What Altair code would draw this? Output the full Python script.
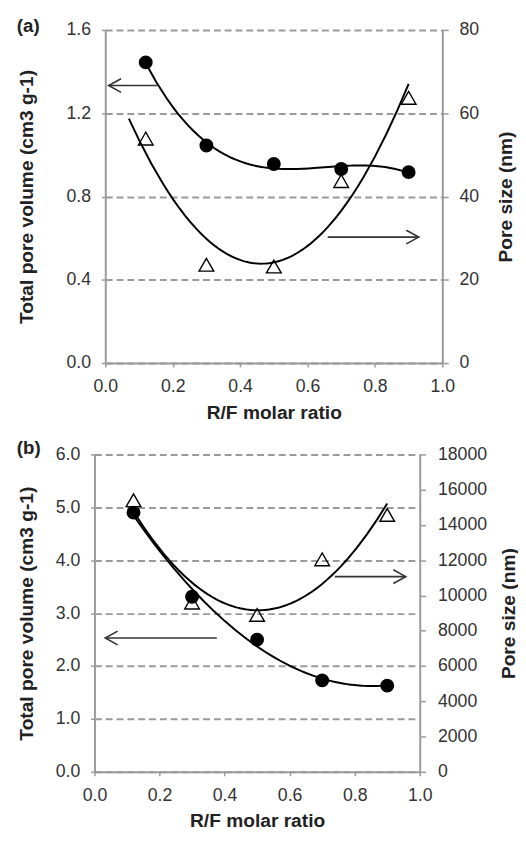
import altair as alt
import pandas as pd

# ---------------- data ----------------
rf_ratio = [0.12, 0.3, 0.5, 0.7, 0.9]

a_pore_volume = [1.444, 1.045, 0.956, 0.932, 0.917]   # cm3 g-1 (left axis)
a_pore_size = [53.9, 23.6, 23.2, 43.7, 63.7]          # nm (right axis)

b_pore_volume = [4.90, 3.31, 2.50, 1.73, 1.63]        # cm3 g-1 (left axis)
b_pore_size = [15400, 9600, 8900, 12050, 14570]       # nm (right axis)

x_ticks = [0.0, 0.2, 0.4, 0.6, 0.8, 1.0]
a_left_ticks = [0.0, 0.4, 0.8, 1.2, 1.6]
a_right_ticks = [0, 20, 40, 60, 80]
b_left_ticks = [0.0, 1.0, 2.0, 3.0, 4.0, 5.0, 6.0]
b_right_ticks = [0, 2000, 4000, 6000, 8000, 10000, 12000, 14000, 16000, 18000]

# annotation arrows: tail x, tip x, level (left-axis units), direction
a_arrow_tail = [0.155, 0.66]
a_arrow_tip = [0.01, 0.93]
a_arrow_level = [1.333, 0.605]
b_arrow_tail = [0.376, 0.739]
b_arrow_tip = [0.033, 0.957]
b_arrow_level = [2.53, 3.69]
arrow_dir = ["left", "right"]

FONT = "Liberation Sans"
GRAY = "#9a9a9a"


def panel(label, vol, pore, left_ticks, right_ticks, left_max, right_max,
          tail, tip, level, tri_extent, vol_order, pore_order,
          width, height, left_title_pad, right_label_pad, right_title_pad,
          label_offset):
    df = pd.DataFrame({"x": rf_ratio, "vol": vol, "pore": pore})
    arrows = pd.DataFrame({"tail": tail, "tip": tip, "level": level, "dir": arrow_dir})

    xenc = alt.X(
        "x:Q",
        scale=alt.Scale(domain=[0, 1], nice=False, zero=False),
        axis=alt.Axis(
            values=x_ticks, format=".1f", title="R/F molar ratio",
            grid=False, labelFlush=False, labelOverlap=False,
            tickSize=4, labelPadding=11, titlePadding=8,
        ),
    )
    yleft_scale = alt.Scale(domain=[0, left_max], nice=False, zero=True)
    yright_scale = alt.Scale(domain=[0, right_max], nice=False, zero=True)

    left_axis = alt.Axis(
        orient="left", values=left_ticks, format=".1f",
        title="Total pore volume (cm3 g-1)", grid=True,
        gridDash=[7, 4], gridColor=GRAY, gridWidth=2,
        tickSize=4, labelPadding=11, titlePadding=left_title_pad,
        labelOverlap=False, labelFlush=False,
    )
    right_axis = alt.Axis(
        orient="right", values=right_ticks, format="d",
        title="Pore size (nm)", grid=False, titleAngle=270, titleBaseline="top",
        tickSize=6, labelPadding=right_label_pad, titlePadding=right_title_pad,
        labelOverlap=False, labelFlush=False,
    )

    base = alt.Chart(df)

    # right-axis layer: pore size (open triangles + quadratic trend)
    tri_curve = base.transform_regression(
        "x", "pore", method="poly", order=pore_order, extent=tri_extent
    ).mark_line(color="black", strokeWidth=2).encode(
        x=xenc, y=alt.Y("pore:Q", scale=yright_scale, axis=right_axis)
    )
    triangles = base.mark_point(
        shape="triangle-up", filled=False, color="black", size=225,
        strokeWidth=1.4, opacity=1
    ).encode(x=xenc, y=alt.Y("pore:Q", scale=yright_scale, axis=right_axis))
    right_layer = alt.layer(tri_curve, triangles)

    # left-axis layer: pore volume (filled circles + trend) and arrows
    vol_curve = base.transform_regression(
        "x", "vol", method="poly", order=vol_order
    ).mark_line(color="black", strokeWidth=2).encode(
        x=xenc, y=alt.Y("vol:Q", scale=yleft_scale, axis=left_axis)
    )
    circles = base.mark_circle(color="black", size=200, opacity=1).encode(
        x=xenc, y=alt.Y("vol:Q", scale=yleft_scale, axis=left_axis)
    )
    arr = alt.Chart(arrows)
    shafts = arr.mark_rule(color="#333333", strokeWidth=1.6).encode(
        x=alt.X("tail:Q", scale=alt.Scale(domain=[0, 1], nice=False)),
        x2="tip:Q",
        y=alt.Y("level:Q", scale=yleft_scale, axis=left_axis),
    )
    heads = arr.mark_point(filled=False, color="#333333", strokeWidth=1.6,
                           size=160, opacity=1).encode(
        x=alt.X("tip:Q", scale=alt.Scale(domain=[0, 1], nice=False)),
        y=alt.Y("level:Q", scale=yleft_scale, axis=left_axis),
        shape=alt.Shape(
            "dir:N",
            scale=alt.Scale(domain=["left", "right"],
                            range=["M2,-1.1L0,0L2,1.1", "M-2,-1.1L0,0L-2,1.1"]),
            legend=None,
        ),
    )
    left_layer = alt.layer(vol_curve, circles, shafts, heads)

    return alt.layer(right_layer, left_layer).resolve_scale(y="independent").properties(
        width=width, height=height,
        title=alt.TitleParams(label, anchor="start", frame="bounds", fontSize=19,
                              fontWeight="bold", font=FONT, color="#222222",
                              offset=label_offset),
    )


def spacer():
    # 1px invisible cell so that each panel's full bounds start at the same x
    return alt.Chart(pd.DataFrame({"v": [0]})).mark_point(opacity=0).encode(
        x=alt.value(0), y=alt.value(0)
    ).properties(width=1, height=1)


chart_a = panel("(a)", a_pore_volume, a_pore_size, a_left_ticks, a_right_ticks, 1.6, 80,
                a_arrow_tail, a_arrow_tip, a_arrow_level, [0.07, 0.9], 3, 2,
                343, 339, 30, 11, 18, -15)
chart_b = panel("(b)", b_pore_volume, b_pore_size, b_left_ticks, b_right_ticks, 6.0, 18000,
                b_arrow_tail, b_arrow_tip, b_arrow_level, [0.12, 0.9], 2, 2,
                331, 323, 19, 12, 13, -12.5)

chart = alt.vconcat(
    alt.hconcat(spacer(), chart_a, spacing=0),
    alt.hconcat(spacer(), chart_b, spacing=0),
    spacing=17,
).properties(
    padding={"left": 2, "top": 2, "right": 0, "bottom": 0}
).configure_view(
    stroke=None
).configure_axis(
    labelFont=FONT, labelFontSize=18, labelColor="#333333",
    titleFont=FONT, titleFontSize=19.5, titleFontWeight="bold", titleColor="#222222",
    domainColor=GRAY, domainWidth=2, tickColor=GRAY, tickWidth=1.5,
)

chart.save("out.html", embed_options={"renderer": "svg", "actions": False})
